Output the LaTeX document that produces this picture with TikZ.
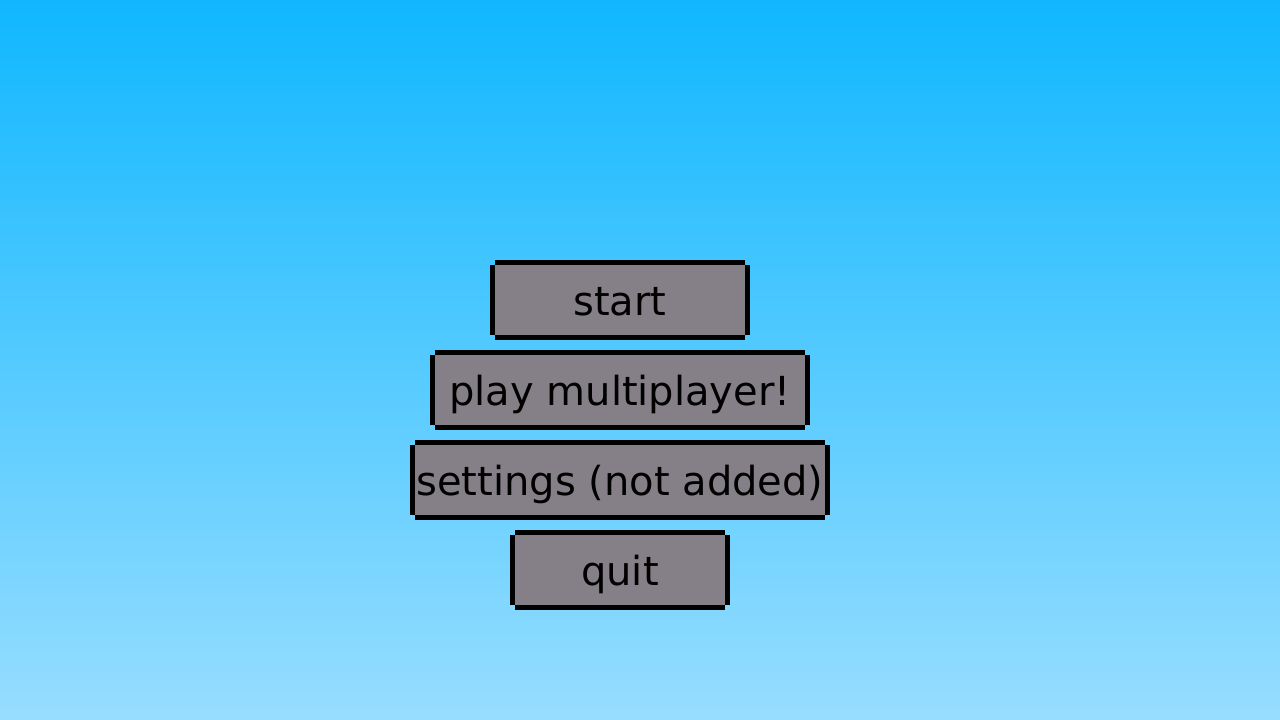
\documentclass[tikz,border=0pt]{standalone}
\usepackage{fontspec}
\setmainfont{DejaVu Sans}
\definecolor{skytop}{HTML}{10B7FF}
\definecolor{skybot}{HTML}{97DDFF}
\definecolor{btngray}{HTML}{858088}
\newcommand{\menubtn}[5]{%
  % #1 name, #2 left, #3 right, #4 top, #5 text
  \fill[btngray] (#2+5,#4+5) rectangle (#3-5,#4+75);
  \fill[black] (#2+5,#4) rectangle (#3-5,#4+5);
  \fill[black] (#2+5,#4+75) rectangle (#3-5,#4+80);
  \fill[black] (#2,#4+5) rectangle (#2+5,#4+75);
  \fill[black] (#3-5,#4+5) rectangle (#3,#4+75);
  \node[btntext] (#1) at ({(#2+#3)/2},#4+55) {#5};
}
\begin{document}
\begin{tikzpicture}[x=1pt,y=-1pt,
  btntext/.style={anchor=base,inner sep=0pt,font=\fontsize{40}{48}\selectfont,text=black}]
\useasboundingbox (0,0) rectangle (1280,720);
\shade[top color=skytop,bottom color=skybot] (0,0) rectangle (1280,720);
\menubtn{start}{490}{750}{260}{start}
\menubtn{multi}{430}{810}{350}{play multiplayer!}
\menubtn{settings}{410}{830}{440}{settings (not added)}
\menubtn{quit}{510}{730}{530}{quit}
\end{tikzpicture}
\end{document}
